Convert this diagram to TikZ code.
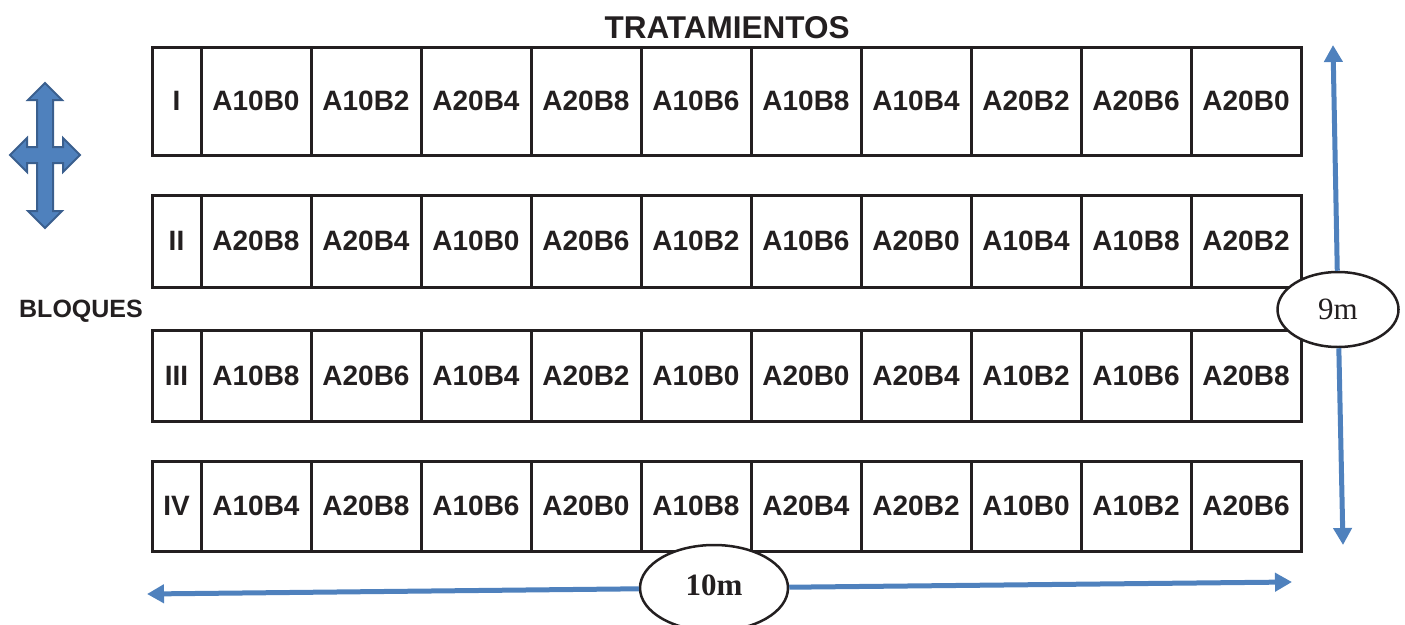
\documentclass[tikz,border=0pt]{standalone}
\usepackage{fontspec}
\setmainfont{Liberation Sans}
\newfontfamily\seriffont{Liberation Serif}
\usetikzlibrary{arrows.meta,shapes.geometric}
\definecolor{blu}{HTML}{4F81BD}
\definecolor{bluedge}{HTML}{3A5F8E}
\definecolor{ink}{HTML}{231F20}
\begin{document}
\begin{tikzpicture}[x=1pt,y=-1pt,
  cell/.style={draw=ink,line width=3pt,minimum width=110pt,inner sep=0pt,
    font=\fontsize{28}{30}\selectfont\bfseries,text=ink},
  lab/.style={cell,minimum width=49pt},
  title/.style={font=\fontsize{31.5}{33}\selectfont\bfseries,text=ink,inner sep=0pt},
  oval/.style={ellipse,draw=ink,line width=2.5pt,fill=white,inner sep=0pt,
    text=ink,font=\seriffont\fontsize{31}{33}\selectfont},
  dimarrow/.style={draw=blu,line width=5pt,-{Triangle[length=17pt,width=18pt]}},
  bigarrow/.style={fill=blu,draw=bluedge,line width=2pt,line join=miter}]
\useasboundingbox (0,0) rectangle (1405,624);

% title and side label
\node[title] (trat) at (727,28) {TRATAMIENTOS};
\node[title,font=\fontsize{25}{27}\selectfont\bfseries] (bloq) at (81,311) {BLOQUES};

% rows
\foreach \r/\cy/\h/\lbl/\items in {
  1/101/108/I/{A10B0,A10B2,A20B4,A20B8,A10B6,A10B8,A10B4,A20B2,A20B6,A20B0},
  2/241/92/II/{A20B8,A20B4,A10B0,A20B6,A10B2,A10B6,A20B0,A10B4,A10B8,A20B2},
  3/375.5/91/III/{A10B8,A20B6,A10B4,A20B2,A10B0,A20B0,A20B4,A10B2,A10B6,A20B8},
  4/506/90/IV/{A10B4,A20B8,A10B6,A20B0,A10B8,A20B4,A20B2,A10B0,A10B2,A20B6}}{
  \node[lab,minimum height=\h pt] (r\r c0) at (176.5,\cy) {\lbl};
  \foreach \t [count=\k] in \items {
    \node[cell,minimum height=\h pt] (r\r c\k) at (146+110*\k,\cy) {\t};
  }
}

% four-way arrow
\filldraw[bigarrow] (45,83) -- (62,100) -- (53,100) -- (53,147) -- (63,147) -- (63,138)
  -- (80,155) -- (63,172) -- (63,163) -- (53,163) -- (53,211) -- (62,211) -- (45,228)
  -- (28,211) -- (37,211) -- (37,163) -- (27,163) -- (27,172) -- (10,155) -- (27,138)
  -- (27,147) -- (37,147) -- (37,100) -- (28,100) -- cycle;

% 9m dimension
\coordinate (vt) at (1333,45);
\coordinate (vb) at (1343,545);
\node[oval,minimum width=121pt,minimum height=75pt] (nine) at (1338,309.5) {9m};
\draw[dimarrow] (nine) -- (vt);
\draw[dimarrow] (nine) -- (vb);

% 10m dimension
\coordinate (hl) at (147,594);
\coordinate (hr) at (1292,582);
\node[oval,minimum width=148pt,minimum height=86pt,font=\seriffont\fontsize{31}{33}\selectfont\bfseries] (ten) at (714,588) {\raisebox{5pt}{10m}};
\draw[dimarrow] (ten) -- (hl);
\draw[dimarrow] (ten) -- (hr);
\end{tikzpicture}
\end{document}
